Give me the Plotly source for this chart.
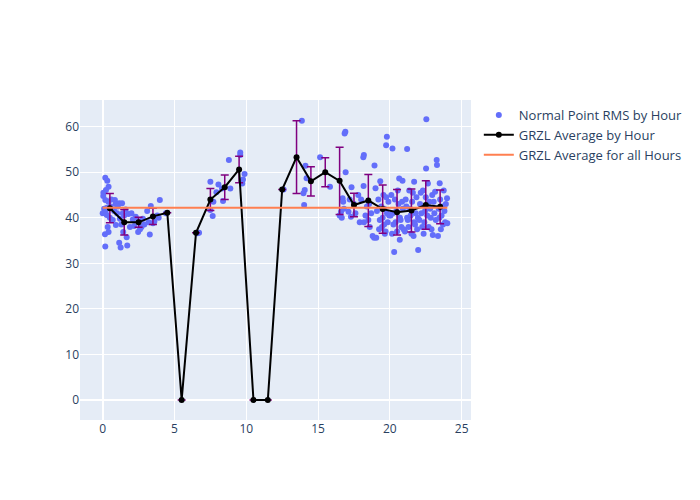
import plotly.graph_objects as go

# Scatter: Normal Point RMS by hour
pts_x = [0.18,0.32,0.41,0.23,0.04,0.18,0.4,0.55,0.3,0.85,1.15,1.35,0.28,0.5,0.7,0.92,0.16,0.18,0.41,1.15,
         1.25,1.71,1.67,1.43,1.9,2.1,2.47,2.6,3.28,3.98,3.35,3.6,3.8,3.1,3.2,2.9,2.2,1.0,0.8,1.2,
         1.5,1.6,1.8,2.0,2.3,2.5,2.7,1.3,0.6,0.1,0.0,0.05,0.9,1.05,1.4,2.8,3.5,3.9,4.4,0.35,0.2,
         6.6,6.71,7.5,7.66,7.71,7.92,8.38,8.31,8.89,8.06,7.5,9.72,9.77,9.88,8.79,9.58,9.58,
         12.6,13.87,15.14,14.12,14.2,14.07,13.98,14.03,15.83,
         16.9,16.85,16.92,16.71,16.75,16.6,16.5,16.8,16.65,
         17.12,17.29,17.33,17.5,17.8,17.2,17.6,17.9,
         18.19,18.15,18.17,18.93,18.0,18.3,18.5,18.6,18.7,18.4,18.8,19.0,18.9,18.2,18.55,
         19.79,19.74,19.33,19.05,19.2,19.4,19.5,19.6,19.7,19.8,19.9,19.3,19.55,19.65,19.85,19.95,19.1,19.45,19.75,19.25,19.6,
         20.18,20.3,20.65,20.88,20.69,20.1,20.2,20.4,20.5,20.6,20.7,20.8,20.9,20.15,20.35,20.45,20.55,20.75,20.95,20.25,20.05,20.85,
         21.2,21.69,21.97,21.1,21.2,21.3,21.4,21.5,21.6,21.7,21.8,21.9,21.05,21.15,21.35,21.45,21.55,21.65,21.75,21.85,21.95,21.25,
         22.54,22.52,22.99,22.1,22.2,22.3,22.4,22.5,22.6,22.7,22.8,22.9,22.05,22.15,22.35,22.45,22.65,22.75,22.85,22.95,22.25,22.55,
         23.26,23.28,23.47,23.98,23.15,24.0,23.35,23.1,23.2,23.4,23.5,23.6,23.7,23.8,23.9,23.05,23.55,23.65,23.75,23.45,23.85]
pts_y = [48.8,48.1,46.8,46.1,44.8,43.9,43.5,42.5,42.2,43.9,43.2,43.2,40.6,40.0,39.5,38.4,36.4,33.7,36.9,34.5,
         33.5,33.9,35.7,36.9,38.0,39.6,36.9,37.5,36.3,43.9,42.6,39.2,40.5,41.5,39.0,38.5,38.2,41.0,41.5,39.8,
         40.5,41.8,40.8,41.0,40.2,39.2,38.0,38.5,44.0,42.0,41.0,45.5,43.0,42.5,41.0,39.8,38.8,40.0,41.0,38.0,41.5,
         36.6,36.7,41.7,40.4,43.5,45.6,43.7,46.4,46.4,47.3,47.9,47.5,48.4,49.6,52.7,54.3,53.8,
         46.2,61.3,53.3,51.4,48.7,46.1,45.4,42.8,46.8,
         58.9,58.5,50.0,44.3,43.5,41.3,40.5,42.0,40.0,
         41.3,40.2,46.7,43.0,45.0,44.0,41.0,39.0,
         53.8,53.3,47.0,51.5,44.0,40.5,39.5,38.0,41.0,42.5,36.0,46.5,35.6,39.0,43.0,
         57.8,55.9,48.0,35.6,44.0,42.5,40.0,38.5,37.0,41.0,43.5,39.5,45.0,36.5,39.0,40.5,41.5,38.0,44.5,37.5,42.0,
         55.2,32.5,48.6,48.1,35.2,45.0,41.0,39.0,37.0,43.0,40.0,38.0,42.0,36.5,44.0,41.5,46.0,39.5,37.5,38.5,40.5,43.5,
         55.1,47.9,32.9,44.0,40.0,38.0,42.0,36.5,45.5,39.0,41.0,37.5,37.0,42.5,46.0,40.5,43.5,36.0,38.5,44.5,40.0,39.5,
         61.6,50.8,36.2,43.0,41.0,46.0,39.0,44.5,40.5,38.0,42.0,37.5,39.5,45.5,36.5,41.5,47.5,43.5,40.0,45.0,38.0,42.5,
         52.7,51.6,47.6,44.3,45.7,38.8,36.0,41.0,39.5,42.0,44.0,40.5,38.5,41.5,43.0,43.5,37.5,42.5,46.0,40.0,39.0]

# Hourly averages with error (std)
hours = [0.5,1.5,2.5,3.5,4.5,5.5,6.5,7.5,8.5,9.5,10.5,11.5,12.5,13.5,14.5,15.5,16.5,17.5,18.5,19.5,20.5,21.5,22.5,23.5]
avg = [42.1,39.0,39.0,40.3,41.1,0.0,36.7,44.0,46.7,50.6,0.0,0.0,46.2,53.3,48.0,50.0,48.1,42.8,43.8,41.9,41.2,41.6,42.8,42.4]
err = [3.2,2.8,1.1,1.8,0.0,0.0,0.0,2.4,2.7,2.9,0.0,0.0,0.0,8.0,3.2,3.2,7.4,2.6,5.7,5.3,5.0,4.7,5.3,3.7]

overall_x = [0, 24]
overall_y = [42.2, 42.2]

fig = go.Figure()
fig.add_trace(go.Scatter(x=pts_x, y=pts_y, mode="markers", name="Normal Point RMS by Hour",
                         marker=dict(color="#636efa", size=6)))
fig.add_trace(go.Scatter(x=hours, y=avg, mode="lines+markers", name="GRZL Average by Hour",
                         line=dict(color="black", width=2), marker=dict(color="black", size=6),
                         error_y=dict(type="data", array=err, visible=True, color="purple",
                                      thickness=1.5, width=4)))
fig.add_trace(go.Scatter(x=overall_x, y=overall_y, mode="lines", name="GRZL Average for all Hours",
                         line=dict(color="coral", width=2)))
fig.update_layout(width=700, height=500, template="plotly",
                  legend=dict(font=dict(size=13)),
                  xaxis=dict(range=[-1.58, 25.65]),
                  yaxis=dict(range=[-4.39, 65.85]))
fig.write_html("out.html")
